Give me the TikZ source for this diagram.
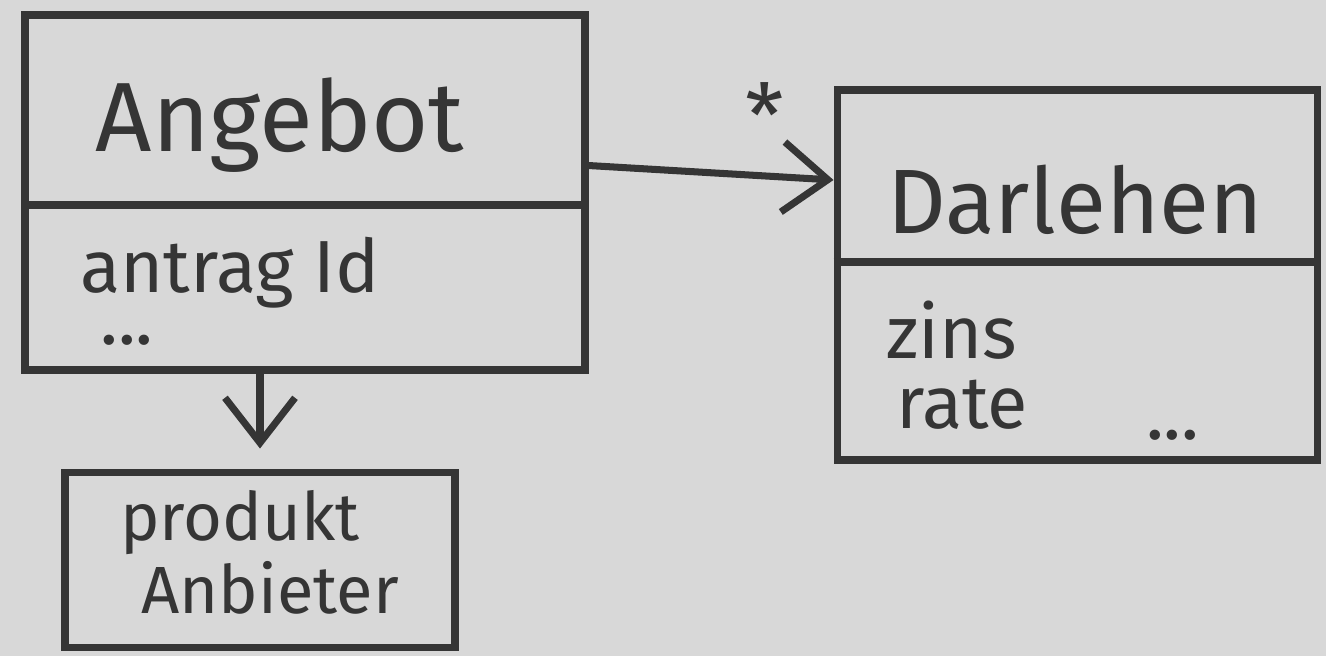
\documentclass[tikz,border=0pt]{standalone}
\usepackage{fontspec}
\setmainfont{Fira Sans}
\usetikzlibrary{arrows.meta, positioning}
\definecolor{paper}{HTML}{D8D8D8}
\definecolor{ink}{HTML}{353535}

\begin{document}
\begin{tikzpicture}[
  node distance=1.9cm and 4.9cm,
  klasse/.style={rectangle, draw=ink, line width=4pt, inner sep=0pt},
  trenner/.style={draw=ink, line width=4pt},
  titel/.style={font=\fontsize{56}{60}\selectfont, text=ink},
  attr/.style={font=\fontsize{42}{46}\selectfont, text=ink, anchor=west},
  arrow/.style={-{Straight Barb[length=9mm, width=14mm]}, draw=ink, line width=4pt}
]
  \fill[paper] (0,0) rectangle (26.52,-13.12);
  \useasboundingbox (0,0) rectangle (26.52,-13.12);

  \node[klasse, minimum width=11.2cm, minimum height=7.1cm] (angebot) at (6.1,-3.85) {};
  \node[klasse, minimum width=9.6cm, minimum height=7.4cm, right=of angebot, yshift=-1.65cm] (darlehen) {};
  \node[klasse, minimum width=7.8cm, minimum height=3.5cm, below=of angebot, xshift=-0.9cm] (anbieter) {};

  \draw[trenner] (angebot.west |- 0,-4.1) -- (angebot.east |- 0,-4.1);
  \draw[trenner] (darlehen.west |- 0,-5.24) -- (darlehen.east |- 0,-5.24);

  \node[titel] (angebotName) at (5.6,-2.5) {Angebot};
  \node[attr, inner sep=0pt] (antragId) at (1.6,-5.45) {antrag Id};
  \node[attr, inner sep=0pt] (angebotMehr) at (2.0,-6.8) {...};

  \node[titel, font=\fontsize{52}{56}\selectfont] (darlehenName) at (21.5,-4.0) {Darlehen};
  \node[attr] (zins) at (17.6,-6.6) {zins};
  \node[attr] (rate) at (17.8,-8.1) {rate};
  \node[attr] (darlehenMehr) at (22.8,-8.7) {...};

  \node[attr, anchor=center, font=\fontsize{38}{42}\selectfont] (produkt) at (4.8,-10.45) {produkt};
  \node[attr, anchor=center, font=\fontsize{38}{42}\selectfont] (anbieterName) at (5.4,-11.75) {Anbieter};

  \node[titel, font=\fontsize{50}{54}\selectfont] (mult) at (15.3,-2.3) {*};

  \draw[arrow] ([yshift=0.54cm]angebot.east) -- ([yshift=1.9cm]darlehen.west);
  \draw[arrow, shorten >=0.4cm] ([xshift=-0.9cm]angebot.south) -- (anbieter.north);
\end{tikzpicture}
\end{document}
